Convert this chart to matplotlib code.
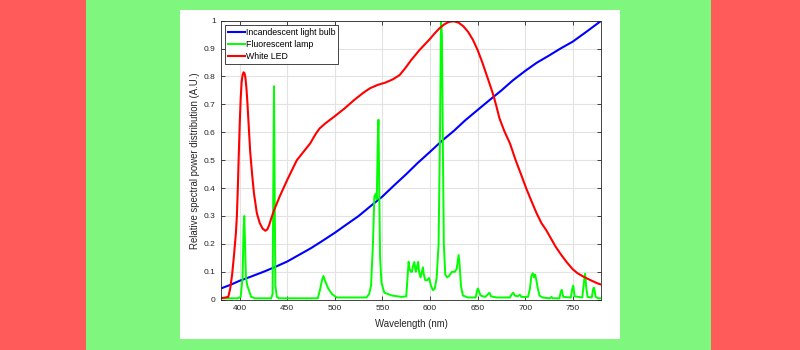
import matplotlib
matplotlib.use("Agg")
import matplotlib.pyplot as plt
from matplotlib.patches import Rectangle

plt.rcParams['font.family'] = ['Liberation Sans', 'DejaVu Sans']

# incandescent bulb (blue)
inc_nm = [380, 390, 400, 412, 425, 437, 450, 462, 475, 487, 500, 512, 525, 537, 550, 562, 575, 587, 600,
          612, 625, 637, 650, 662, 675, 687, 700, 712, 725, 737, 750, 765, 780]
inc_val = [0.040, 0.053, 0.068, 0.083, 0.100, 0.117, 0.137, 0.160, 0.185, 0.211, 0.240, 0.269, 0.300,
           0.334, 0.370, 0.409, 0.450, 0.490, 0.530, 0.568, 0.605, 0.643, 0.680, 0.714, 0.750, 0.786,
           0.820, 0.849, 0.875, 0.900, 0.925, 0.962, 1.0]

# white LED (red)
led_nm = [380, 385, 388, 390, 392, 394, 396, 397, 398, 399, 400, 401, 402, 403, 404, 405, 406, 407, 408,
          409, 410, 411, 413, 415, 418, 421, 424, 427, 429, 431, 433, 436, 439, 442, 446, 450, 455, 460,
          467, 474, 480, 484, 490, 495, 500, 510, 520, 530, 537, 545, 553, 561, 568, 574, 580, 589, 600,
          605, 610, 615, 620, 625, 630, 635, 640, 645, 650, 655, 660, 664, 667, 670, 673, 678, 684, 690,
          695, 701, 707, 712, 717, 722, 727, 732, 738, 744, 750, 755, 760, 765, 770, 775, 780]
led_val = [0.005, 0.008, 0.010, 0.040, 0.09, 0.16, 0.24, 0.30, 0.40, 0.52, 0.63, 0.72, 0.78, 0.805, 0.815,
           0.812, 0.795, 0.76, 0.71, 0.65, 0.59, 0.53, 0.45, 0.38, 0.31, 0.275, 0.255, 0.247, 0.252, 0.268,
           0.29, 0.32, 0.345, 0.37, 0.40, 0.43, 0.465, 0.50, 0.53, 0.56, 0.595, 0.614, 0.632, 0.645, 0.658,
           0.685, 0.715, 0.742, 0.758, 0.77, 0.778, 0.79, 0.805, 0.83, 0.858, 0.895, 0.935, 0.955, 0.973,
           0.987, 0.996, 0.998, 0.993, 0.98, 0.96, 0.932, 0.895, 0.85, 0.80, 0.76, 0.728, 0.69, 0.65, 0.605,
           0.56, 0.50, 0.455, 0.40, 0.35, 0.31, 0.275, 0.25, 0.22, 0.19, 0.16, 0.133, 0.109, 0.095, 0.085,
           0.076, 0.068, 0.06, 0.054]

# fluorescent lamp (green)
fl_nm = [380, 398, 401, 403, 404, 404.8, 405.6, 406.5, 408, 410, 412, 416, 433, 434.5, 435.3, 436, 436.7,
         437.5, 439, 441, 482, 484, 486.5, 488, 490, 493, 497, 502, 533, 536, 538, 540, 541.5, 543, 544,
         545, 545.8, 546.6, 547.5, 549, 552, 560, 570, 575, 576.5, 577.5, 578.5, 580, 581, 582, 583.5,
         585, 586, 587.5, 588.5, 590, 591.5, 592.5, 593.5, 595, 597, 599, 601, 603, 605, 607, 609, 610.5,
         611.5, 612.5, 613.5, 614.5, 616, 618, 620, 623, 626, 628, 630, 631, 632.5, 634.5, 640, 648, 650,
         651, 653, 658, 661, 662.5, 664, 670, 684, 686, 687.5, 689, 692, 694.5, 696, 703, 705, 706.5, 708,
         709.5, 710.5, 711.5, 713, 715, 718, 726, 727.5, 729, 736, 737.5, 738.5, 740, 748, 749.5, 750.5,
         752, 760, 762, 763, 764, 765.5, 770, 771.5, 772.5, 774, 777, 780]
fl_val = [0.005, 0.005, 0.01, 0.08, 0.25, 0.30, 0.20, 0.08, 0.05, 0.03, 0.01, 0.005, 0.005, 0.02, 0.40,
          0.765, 0.40, 0.05, 0.01, 0.005, 0.005, 0.03, 0.07, 0.085, 0.065, 0.04, 0.02, 0.008, 0.008, 0.02,
          0.05, 0.20, 0.37, 0.38, 0.36, 0.55, 0.645, 0.40, 0.15, 0.06, 0.025, 0.015, 0.01, 0.012, 0.09,
          0.136, 0.11, 0.10, 0.10, 0.12, 0.135, 0.10, 0.11, 0.136, 0.10, 0.08, 0.10, 0.116, 0.09, 0.07,
          0.07, 0.078, 0.05, 0.034, 0.04, 0.08, 0.20, 0.60, 1.0, 0.95, 0.55, 0.20, 0.09, 0.08, 0.085, 0.10,
          0.10, 0.11, 0.16, 0.13, 0.05, 0.015, 0.008, 0.008, 0.04, 0.035, 0.015, 0.01, 0.02, 0.025, 0.012,
          0.008, 0.008, 0.02, 0.025, 0.015, 0.012, 0.018, 0.01, 0.01, 0.04, 0.085, 0.095, 0.08, 0.09, 0.075,
          0.045, 0.015, 0.008, 0.005, 0.01, 0.005, 0.005, 0.03, 0.035, 0.01, 0.008, 0.04, 0.05, 0.012,
          0.008, 0.07, 0.093, 0.05, 0.01, 0.008, 0.04, 0.043, 0.01, 0.005, 0.005]

x_ticks = [400, 450, 500, 550, 600, 650, 700, 750]
y_ticks = [0, 0.1, 0.2, 0.3, 0.4, 0.5, 0.6, 0.7, 0.8, 0.9, 1]
y_tick_labels = ['0', '0.1', '0.2', '0.3', '0.4', '0.5', '0.6', '0.7', '0.8', '0.9', '1']

fig = plt.figure(figsize=(8, 3.5), dpi=100)
fig.patch.set_facecolor('#ff5b5b')
fig.patches.append(Rectangle((86 / 800, 0), (711 - 86) / 800, 1, transform=fig.transFigure,
                             facecolor='#7ff77f', edgecolor='none', zorder=-10))
fig.patches.append(Rectangle((180 / 800, 11 / 350), 440 / 800, 329 / 350, transform=fig.transFigure,
                             facecolor='white', edgecolor='none', zorder=-9))

ax = fig.add_axes([220.7 / 800, 50.3 / 350, 380.6 / 800, 279 / 350])
ax.set_zorder(5)
ax.plot(inc_nm, inc_val, color='#0000ff', lw=1.5, label='Incandescent light bulb')
ax.plot(fl_nm, fl_val, color='#00ff00', lw=1.4, label='Fluorescent lamp')
ax.plot(led_nm, led_val, color='#ff0000', lw=1.5, label='White LED')

ax.set_xlim(380, 780)
ax.set_ylim(0, 1)
ax.set_xticks(x_ticks)
ax.set_yticks(y_ticks)
ax.set_yticklabels(y_tick_labels)
ax.grid(True, color='#e3e3e3', lw=0.8)
ax.set_axisbelow(True)
ax.tick_params(direction='in', top=True, right=True, labelsize=6, colors='#262626', length=3, width=0.6,
               labelcolor='#262626')
for s in ax.spines.values():
    s.set_color('#262626')
    s.set_linewidth(0.6)

ax.set_xlabel('Wavelength (nm)', fontsize=6.9, color='#262626', labelpad=5)
ax.set_ylabel('Relative spectral power distribution (A.U.)', fontsize=6.9, color='#262626', labelpad=3)

leg = ax.legend(loc='upper left', fontsize=6.3, fancybox=False, framealpha=1, edgecolor='#262626',
                handlelength=1.9, handletextpad=0.1, borderpad=0.35, labelspacing=0.35,
                borderaxespad=0.5)
leg.get_frame().set_linewidth(0.6)

fig.savefig('out.png', dpi=100, facecolor=fig.get_facecolor())
